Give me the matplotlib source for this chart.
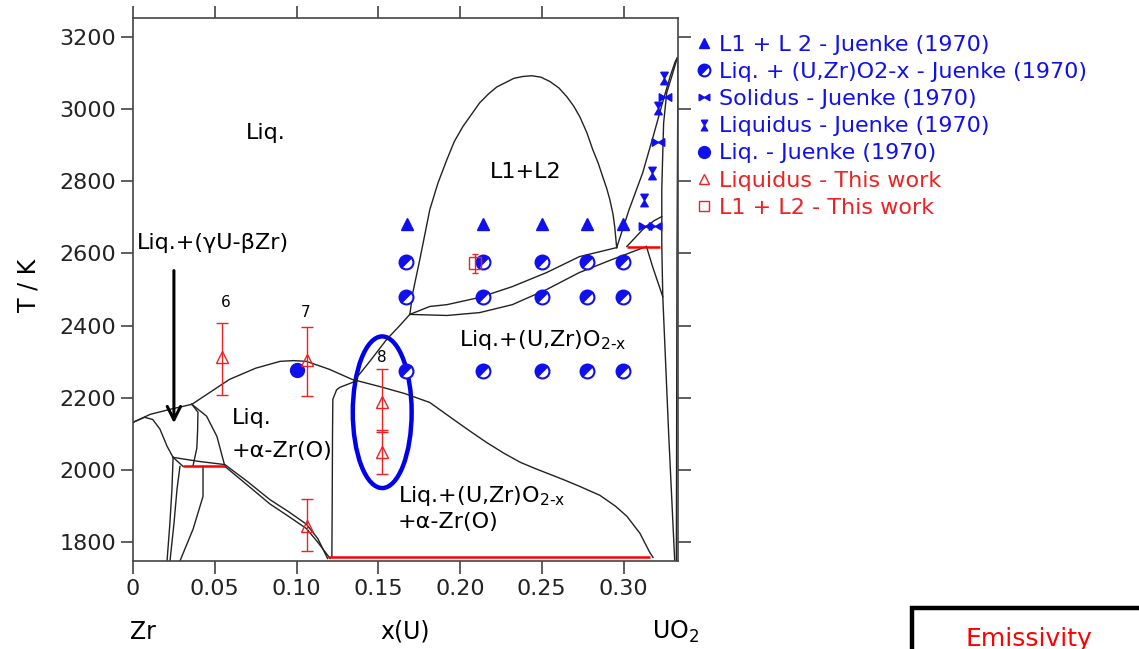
import matplotlib
matplotlib.use("Agg")
import matplotlib.pyplot as plt
import matplotlib.patches as mpatches
from matplotlib.markers import MarkerStyle
from matplotlib.path import Path
from matplotlib.transforms import Affine2D

plt.rcParams['font.family'] = ['DejaVu Sans']

# ---- phase boundaries, (x(U), T/K) ----
gamma_top = [(0.0, 2132), (0.0104, 2154), (0.0226, 2168), (0.036, 2182)]
gamma_low = [(0.0, 2132), (0.007, 2146), (0.012, 2140), (0.0165, 2113), (0.0208, 2066), (0.0245, 2035)]
gamma_vert = [(0.036, 2182), (0.0397, 2160), (0.0395, 2110), (0.039, 2060), (0.0367, 2012)]
alpha_left = [(0.036, 2182), (0.045, 2149), (0.0513, 2093), (0.0562, 2010)]
eut_short = [(0.0245, 2035), (0.0306, 2010)]
drop1 = [(0.0245, 2035), (0.0238, 1947), (0.0225, 1850), (0.0208, 1748)]
drop2 = [(0.0287, 2010), (0.0269, 1947), (0.025, 1850), (0.0226, 1748)]
drop3 = [(0.0428, 2010), (0.0428, 1927), (0.0367, 1836), (0.0287, 1748)]
solv_a = [(0.0245, 2035), (0.04, 2024), (0.0562, 2015), (0.07, 1968), (0.0837, 1918),
          (0.095, 1885), (0.106, 1850), (0.113, 1810), (0.119, 1755)]
solv_b = [(0.0562, 2010), (0.07, 1958), (0.0837, 1906), (0.095, 1872), (0.106, 1838),
          (0.113, 1800), (0.1205, 1755)]
liq_dome = [(0.036, 2182), (0.047, 2215), (0.059, 2251), (0.075, 2282), (0.09, 2301),
            (0.098, 2303), (0.106, 2301), (0.12, 2279), (0.134, 2251), (0.151, 2231),
            (0.166, 2212), (0.1815, 2187), (0.196, 2140), (0.206, 2108), (0.216, 2077),
            (0.227, 2046), (0.237, 2021), (0.246, 2004), (0.255, 1988), (0.264, 1972),
            (0.273, 1955), (0.2855, 1930), (0.295, 1900), (0.302, 1872), (0.31, 1825),
            (0.316, 1772), (0.318, 1758)]
oxide_left = [(0.1216, 1758), (0.1218, 1900), (0.122, 2100), (0.1222, 2196), (0.1245, 2222),
              (0.1265, 2229), (0.1345, 2243), (0.145, 2302), (0.155, 2361), (0.1625, 2397),
              (0.1693, 2431)]
l1l2_dome = [(0.1693, 2431), (0.1711, 2491), (0.1754, 2583), (0.1815, 2721), (0.1865, 2795),
             (0.1919, 2859), (0.1965, 2910), (0.2017, 2951), (0.212, 3017), (0.2175, 3042),
             (0.2225, 3061), (0.233, 3085), (0.2385, 3090), (0.2439, 3092), (0.2495, 3088),
             (0.255, 3076), (0.2605, 3058), (0.2653, 3034), (0.2695, 3008), (0.2733, 2978),
             (0.2775, 2935), (0.2812, 2887), (0.2845, 2850), (0.2873, 2812), (0.2897, 2780),
             (0.2916, 2749), (0.2935, 2710), (0.2946, 2674), (0.2958, 2616)]
upper_branch = [(0.1693, 2431), (0.1815, 2453), (0.192, 2458), (0.212, 2478), (0.232, 2508),
                (0.253, 2547), (0.273, 2591), (0.2958, 2616)]
lower_branch = [(0.1693, 2431), (0.192, 2428), (0.212, 2436), (0.232, 2458), (0.253, 2500),
                (0.273, 2547), (0.293, 2583), (0.314, 2619)]
liquidus_r = [(0.2958, 2616), (0.3033, 2720), (0.3117, 2823), (0.3185, 2930), (0.324, 3020),
              (0.3285, 3090), (0.3315, 3130), (0.3328, 3141)]
solidus_r = [(0.3328, 3141), (0.3295, 3090), (0.3264, 3045), (0.3245, 2960), (0.324, 2880),
             (0.3234, 2780), (0.3234, 2702), (0.3234, 2619), (0.324, 2480), (0.3276, 2100),
             (0.3313, 1748)]
vertical_r = [(0.3333, 3141), (0.3327, 2600), (0.3323, 1748)]
lens_top = [(0.302, 2619), (0.3117, 2666), (0.3185, 2690), (0.3234, 2702)]
lens_low = [(0.314, 2619), (0.318, 2560), (0.324, 2480)]

curves = [gamma_top, gamma_low, gamma_vert, alpha_left, eut_short, drop1, drop2, drop3,
          solv_a, solv_b, liq_dome, oxide_left, l1l2_dome, upper_branch, lower_branch,
          liquidus_r, solidus_r, vertical_r, lens_top, lens_low]

# invariant (three-phase) lines
inv_x0 = [0.0306, 0.119, 0.302]
inv_x1 = [0.0562, 0.316, 0.3223]
inv_T = [2010, 1758, 2619]

# ---- Juenke (1970) points ----
j_l1l2_x = [0.1675, 0.214, 0.250, 0.2775, 0.2995]
j_l1l2_T = [2680, 2680, 2680, 2680, 2680]
j_liqox_x = [0.167, 0.214, 0.25, 0.2775, 0.2995] * 3
j_liqox_T = [2575] * 5 + [2478] * 5 + [2273] * 5
j_sol_x = [0.3252, 0.3209, 0.313, 0.319]
j_sol_T = [3034, 2909, 2677, 2677]
j_liq_x = [0.3246, 0.3209, 0.3172, 0.3124]
j_liq_T = [3086, 3003, 2823, 2749]
j_liqonly_x = [0.100]
j_liqonly_T = [2276]

# ---- this work ----
tw_liq_x = [0.0544, 0.1064, 0.1064, 0.1524, 0.1524]
tw_liq_T = [2314, 2306, 1846, 2187, 2049]
tw_err_lo = [105, 102, 71, 82, 61]
tw_err_hi = [94, 89, 73, 92, 61]
tw_l1l2_x = [0.209]
tw_l1l2_T = [2572]
tw_l1l2_err = [25]
run_labels = ["6", "7", "8"]
run_label_x = [0.0568, 0.1058, 0.1524]
run_label_T = [2464, 2436, 2312]

fig = plt.figure(figsize=(11.39, 6.49), dpi=100)
ax = fig.add_axes([0.1168, 0.1356, 0.4785, 0.8367])

for c in curves:
    ax.plot([p[0] for p in c], [p[1] for p in c], color='#222222', lw=1.0)
ax.hlines(inv_T, inv_x0, inv_x1, colors='red', lw=1.8)

blue = '#1010ee'
red = '#ee2222'
half = MarkerStyle('o', fillstyle='left', transform=Affine2D().rotate_deg(-45))
hour = Path([(-0.6, 1), (0.6, 1), (-0.6, -1), (0.6, -1), (-0.6, 1)])
bow = Path([(-1, 0.6), (-1, -0.6), (1, 0.6), (1, -0.6), (-1, 0.6)])

ax.plot(j_l1l2_x, j_l1l2_T, ls='none', marker='^', ms=8, color=blue,
        label="L1 + L 2 - Juenke (1970)")
ax.plot(j_liqox_x, j_liqox_T, ls='none', marker=half, ms=10, color=blue, mec=blue,
        mfc=blue, mfcalt='white', mew=1.5, label="Liq. + (U,Zr)O2-x - Juenke (1970)")
ax.plot(j_sol_x, j_sol_T, ls='none', marker=bow, ms=9, color=blue,
        label="Solidus - Juenke (1970)")
ax.plot(j_liq_x, j_liq_T, ls='none', marker=hour, ms=9, color=blue,
        label="Liquidus - Juenke (1970)")
ax.plot(j_liqonly_x, j_liqonly_T, ls='none', marker='o', ms=10, color=blue,
        label="Liq. - Juenke (1970)")

ax.errorbar(tw_liq_x, tw_liq_T, yerr=[tw_err_lo, tw_err_hi], fmt='none', ecolor=red,
            elinewidth=1.0, capsize=4)
ax.plot(tw_liq_x, tw_liq_T, ls='none', marker='^', ms=9, mfc='none', mec=red, mew=1.0,
        label="Liquidus - This work")
ax.errorbar(tw_l1l2_x, tw_l1l2_T, yerr=tw_l1l2_err, fmt='none', ecolor=red,
            elinewidth=1.0, capsize=2)
ax.plot(tw_l1l2_x, tw_l1l2_T, ls='none', marker='s', ms=8, mfc='none', mec=red, mew=1.0,
        label="L1 + L2 - This work")

for lab, lx, lt in zip(run_labels, run_label_x, run_label_T):
    ax.text(lx, lt, lab, fontsize=11, ha='center', va='center')

# region labels
ax.text(0.081, 2934, "Liq.", fontsize=16, ha='center', va='center')
ax.text(0.240, 2826, "L1+L2", fontsize=16, ha='center', va='center')
ax.text(0.049, 2630, "Liq.+(γU-βZr)", fontsize=16, ha='center', va='center')
ax.text(0.0605, 2143, "Liq.", fontsize=16, ha='left', va='center')
ax.text(0.0605, 2052, "+α-Zr(O)", fontsize=16, ha='left', va='center')
ax.text(0.1993, 2361, r"Liq.+(U,Zr)O$_{\mathregular{2\text{-}x}}$", fontsize=16,
        ha='left', va='center')
ax.text(0.162, 1927, r"Liq.+(U,Zr)O$_{\mathregular{2\text{-}x}}$", fontsize=16,
        ha='left', va='center')
ax.text(0.162, 1855, "+α-Zr(O)", fontsize=16, ha='left', va='center')

ax.annotate("", xy=(0.025, 2122), xytext=(0.025, 2560),
            arrowprops=dict(arrowstyle='->', lw=2.2, color='black', mutation_scale=24))

ax.add_patch(mpatches.Ellipse((0.1524, 2160), 0.036, 420, fill=False, ec='#0000ee', lw=3.2))

ax.set_xlim(0, 1 / 3)
ax.set_ylim(1748, 3252)
ax.set_xticks([0, 0.05, 0.10, 0.15, 0.20, 0.25, 0.30])
ax.set_xticklabels(["0", "0.05", "0.10", "0.15", "0.20", "0.25", "0.30"])
ax.set_yticks(range(1800, 3201, 200))
ax.tick_params(direction='out', length=9, width=1.1, colors='#333333', labelsize=16,
               top=True, right=True, labelcolor='#222222')
ax.tick_params(axis='x', pad=4)
ax.tick_params(axis='y', pad=3)
for s in ax.spines.values():
    s.set_color('#444444')
    s.set_linewidth(1.2)

leg = ax.legend(loc='upper left', bbox_to_anchor=(697 / 1139, 1 - 35 / 649),
                bbox_transform=fig.transFigure, frameon=False, fontsize=16,
                handlelength=0.6, handletextpad=0.4, labelspacing=0.32, borderpad=0,
                borderaxespad=0, numpoints=1, markerscale=0.85)
for t, col in zip(leg.get_texts(), [blue] * 5 + [red] * 2):
    t.set_color(col)

fig.text(28 / 1139, 1 - 285 / 649, "T / K", rotation=90, fontsize=17, ha='center', va='center')
fig.text(143 / 1139, 1 - 632 / 649, "Zr", fontsize=17, ha='center', va='center')
fig.text(405 / 1139, 1 - 632 / 649, "x(U)", fontsize=17, ha='center', va='center')
fig.text(676 / 1139, 1 - 632 / 649, r"UO$_2$", fontsize=17, ha='center', va='center')

fig.patches.append(mpatches.Rectangle((912 / 1139, -0.1), 0.5, 0.1 + 1 - 608 / 649,
                                      transform=fig.transFigure, fill=False, ec='black',
                                      lw=3.2, figure=fig))
fig.text(965 / 1139, 1 - 627 / 649, "Emissivity", color='red', fontsize=18, ha='left', va='top')

fig.savefig("out.png", dpi=100)
